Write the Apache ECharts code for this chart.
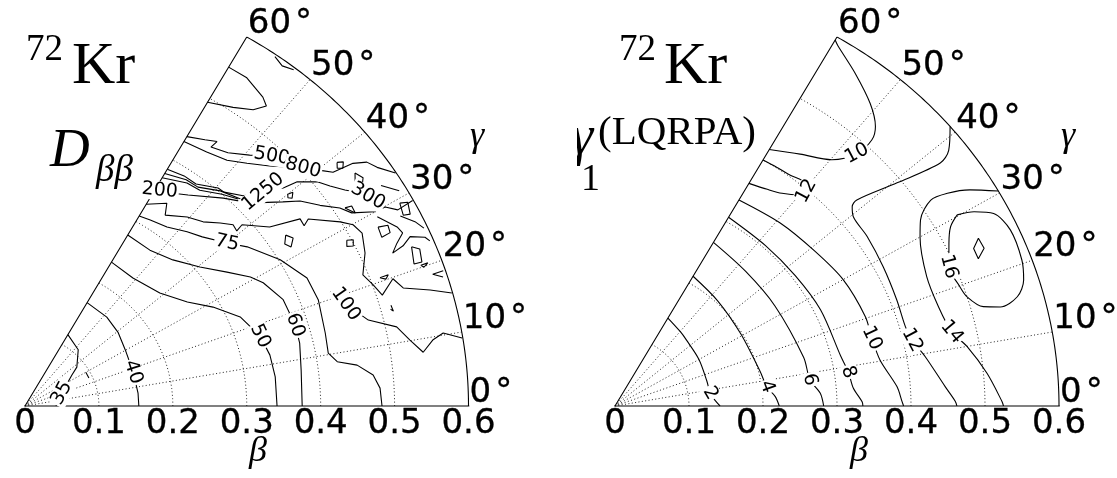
<!DOCTYPE html>
<html>
<head>
<meta charset="utf-8">
<script src="https://cdn.jsdelivr.net/npm/echarts@6/dist/echarts.min.js"></script>
<style>
  html, body { margin: 0; padding: 0; background: #fff; }
  #chart { width: 1117px; height: 478px; }
</style>
</head>
<body>
<div id="chart"></div>
<script>
// ---- axes -------------------------------------------------------------
const betaTickLabels = ['0', '0.1', '0.2', '0.3', '0.4', '0.5', '0.6'];
const betaGridValues = [0.1, 0.2, 0.3, 0.4, 0.5];
const gammaTicks = [0, 10, 20, 30, 40, 50, 60];
const gammaTickLabels = ['0', '10', '20', '30', '40', '50', '60'];
const BETA_MAX = 0.6;
const GAMMA_MAX = 60;

// ---- 72Kr, D_bb mass parameter: contour lines as [beta, gamma(deg)] ----
const dbb35 = [[0.116, 60], [0.107, 47.7], [0.089, 38], [0.077, 34.5], [0.053, 20], [0.042, 0]];
const dbb35b = [[0.095, 30], [0.095, 24.5]];
const dbb40 = [[0.168, 60], [0.167, 48.5], [0.163, 39.3], [0.157, 30.2], [0.154, 18.1], [0.154, 6.8], [0.154, 0]];
const dbb50 = [[0.234, 60], [0.232, 51], [0.242, 41.1], [0.264, 33.7], [0.290, 28.7], [0.317, 23.3], [0.333, 17.2],
  [0.339, 12.2], [0.341, 6.9], [0.341, 0]];
const dbb60 = [[0.278, 60], [0.277, 52.4], [0.287, 45.8], [0.307, 39.6], [0.332, 34.6], [0.355, 30.8], [0.366, 28.3],
  [0.380, 23.2], [0.383, 17.3], [0.382, 13.4], [0.377, 7.7], [0.375, 0]];
const dbb75 = [[0.309, 60], [0.312, 57.1], [0.317, 52.7], [0.329, 48.2], [0.338, 44.8], [0.357, 40], [0.375, 36.7],
  [0.402, 30.8], [0.422, 25.3], [0.424, 20.6], [0.419, 14.2], [0.417, 10.3], [0.427, 8.4], [0.453, 7.3],
  [0.473, 5.3], [0.481, 3], [0.483, 0]];
const dbb100 = [[0.328, 60], [0.344, 56.1], [0.329, 54.8], [0.345, 50.5], [0.354, 47.1], [0.369, 44.3], [0.380, 42.2],
  [0.378, 40.7], [0.389, 41], [0.416, 37.3], [0.456, 35.3], [0.455, 33.9], [0.465, 34.5], [0.499, 31.3],
  [0.512, 29.9], [0.517, 28.1], [0.508, 25.1], [0.493, 22], [0.501, 19.9], [0.508, 17.9], [0.529, 19.8],
  [0.538, 18], [0.572, 16.6], [0.599, 15.4]];
const dbb100b = [[0.443, 21.3], [0.457, 18.3], [0.480, 14.6], [0.515, 12.5], [0.529, 10.1], [0.544, 8],
  [0.560, 9.6], [0.575, 10.3], [0.599, 9.2]];
const dbb200 = [[0.351, 60], [0.354, 59], [0.363, 55.4], [0.370, 53.4], [0.397, 47.5], [0.412, 44.3], [0.428, 42],
  [0.452, 39.5], [0.471, 37.8], [0.489, 35.3], [0.509, 33.2], [0.519, 31.6], [0.547, 30], [0.562, 29.9],
  [0.575, 28.7], [0.599, 28.9]];
const dbb1250a = [[0.385, 60], [0.389, 56.4], [0.389, 53.5], [0.403, 49.6], [0.404, 48.2], [0.418, 45.1],
  [0.441, 43.1], [0.465, 41.3], [0.485, 40.6], [0.506, 38.6], [0.516, 36.9], [0.529, 35.1], [0.539, 34]];
const dbb1250b = [[0.378, 60], [0.386, 55.6], [0.387, 52.8], [0.402, 48.9], [0.412, 45.1], [0.421, 43.6]];
const dbb1250c = [[0.371, 60], [0.383, 55.1], [0.385, 52.1], [0.400, 48.2], [0.410, 45.3]];
const dbb500 = [[0.438, 60], [0.447, 57], [0.454, 55.1], [0.443, 55.4], [0.450, 52.4], [0.466, 49.3], [0.485, 46.5],
  [0.501, 44.2]];
const dbb800 = [[0.430, 60], [0.434, 55.5], [0.441, 51.7], [0.455, 48.7], [0.473, 45.6], [0.504, 41.7],
  [0.521, 39.5], [0.531, 38.3], [0.560, 37.6], [0.576, 36.6], [0.583, 35.2], [0.599, 33.2]];
const dbbTop = [[0.551, 60], [0.551, 57], [0.541, 53.5], [0.534, 52.3], [0.519, 53.5], [0.506, 56.2], [0.494, 60]];
const dbbTopArc = [[0.597, 55.5], [0.592, 54], [0.597, 52.5]];
// small closed islands in the noisy high-beta region
const dbbIslands = [
  [[0.544, 39.1], [0.551, 38.6], [0.545, 37.9], [0.539, 38.4], [0.544, 39.1]],
  [[0.554, 36.3], [0.559, 35.1], [0.550, 34], [0.539, 34], [0.554, 36.3]],
  [[0.582, 29.4], [0.592, 29], [0.587, 27.4], [0.578, 27.7], [0.582, 29.4]],
  [[0.540, 27.8], [0.553, 27.4], [0.551, 26.3], [0.538, 26.2], [0.540, 27.8]],
  [[0.515, 32.8], [0.524, 32.5], [0.523, 31.3], [0.515, 32.8]],
  [[0.494, 28.2], [0.502, 27.8], [0.498, 26.9], [0.490, 27.3], [0.494, 28.2]],
  [[0.569, 23.2], [0.578, 22.5], [0.574, 20.7], [0.563, 20.8], [0.569, 23.2]],
  [[0.571, 20.3], [0.581, 20.3], [0.574, 19.9], [0.571, 20.3]],
  [[0.513, 20.6], [0.525, 20.6], [0.520, 20.1], [0.513, 20.6]],
  [[0.427, 34.3], [0.433, 33.1], [0.424, 31.9], [0.419, 33], [0.427, 34.3]],
  [[0.464, 40], [0.471, 39.7], [0.465, 39], [0.461, 39.5], [0.464, 40]]
];
const dbbFragments = [
  [[0.597, 18.6], [0.582, 18.6], [0.594, 17.8]],
  [[0.573, 32.8], [0.590, 30.9]],
  [[0.546, 29.2], [0.563, 26.6], [0.566, 25.5], [0.553, 24.5], [0.542, 23.4], [0.559, 23.8], [0.573, 24.6],
    [0.591, 23.7], [0.595, 23]],
  [[0.574, 27.8], [0.588, 26.2], [0.595, 24.9]],
  [[0.515, 16], [0.516, 15], [0.513, 15.4]]
];
const dbbLabels = [[0.053, 20, '35'], [0.154, 18, '40'], [0.333, 17.2, '50'], [0.383, 17.3, '60'], [0.357, 40, '75'],
  [0.457, 18.3, '100'], [0.354, 59, '200'], [0.441, 43.1, '1250'], [0.485, 46.5, '500'], [0.504, 41.7, '800'],
  [0.550, 32.5, '300']];

// ---- 72Kr, gamma_1 (LQRPA): contour lines as [beta, gamma(deg)] ----
const g2 = [[0.143, 60], [0.137, 50], [0.134, 44], [0.131, 30], [0.129, 16], [0.130, 8], [0.136, 3], [0.142, 0]];
const g4 = [[0.211, 60], [0.203, 47], [0.198, 31], [0.202, 14], [0.207, 7.5], [0.217, 3.5], [0.222, 0]];
const g6 = [[0.266, 60], [0.259, 47], [0.258, 33], [0.264, 15], [0.266, 8], [0.278, 3.7], [0.282, 0]];
const g8 = [[0.307, 60], [0.304, 48], [0.305, 37], [0.309, 26], [0.313, 13], [0.319, 8.6], [0.323, 4.5],
  [0.334, 1], [0.335, 0]];
const g10 = [[0.335, 60], [0.341, 49], [0.347, 39], [0.356, 30], [0.361, 20.4], [0.360, 15.4], [0.364, 10.2],
  [0.382, 4.1], [0.388, 0.9], [0.390, 0]];
const g10Top = [[0.417, 60], [0.434, 54.8], [0.454, 49.8], [0.483, 47.4], [0.511, 47.2], [0.528, 48.2],
  [0.548, 51], [0.570, 55.3], [0.590, 59.3], [0.595, 60]];
const g12Lobe = [[0.362, 60], [0.368, 56], [0.375, 53], [0.388, 50], [0.405, 49.5], [0.406, 51.5], [0.402, 54],
  [0.401, 57], [0.400, 60]];
const g12 = [[0.600, 41], [0.577, 38.6], [0.557, 37.9], [0.494, 39.5], [0.437, 41.6], [0.426, 41.2], [0.418, 39.6],
  [0.416, 35], [0.412, 28.4], [0.409, 21.4], [0.408, 15.9], [0.412, 13], [0.425, 9.4], [0.447, 3.5],
  [0.460, 0.8], [0.462, 0]];
const g14 = [[0.600, 30.3], [0.568, 32.4], [0.540, 33.7], [0.516, 34.2], [0.489, 32.4], [0.476, 30], [0.459, 23.4],
  [0.459, 17.7], [0.467, 12.9], [0.483, 10], [0.505, 5.2], [0.523, 0.7], [0.525, 0]];
const g16 = [[0.535, 30.2], [0.557, 29.4], [0.579, 27.9], [0.589, 24.9], [0.587, 20.5], [0.580, 17.8],
  [0.565, 15.8], [0.539, 15.0], [0.517, 15.7], [0.500, 17.9], [0.495, 20.1], [0.492, 23.5], [0.506, 26.9],
  [0.519, 29.1], [0.535, 30.2]];
const g18 = [[0.545, 25.7], [0.546, 24.0], [0.533, 22.9], [0.533, 24.6], [0.545, 25.7]];
const gLabels = [[0.130, 8, '2'], [0.207, 7.5, '4'], [0.266, 8, '6'], [0.319, 8.6, '8'], [0.360, 15.4, '10'],
  [0.412, 13, '12'], [0.467, 12.9, '14'], [0.492, 23.5, '16'], [0.483, 47.4, '10'], [0.398, 49.5, '12']];

// ---- drawing ------------------------------------------------------------
const dbbLabelAngles = [62, -72, -65, -72, -12, -55, -5, 40, -10, -15, -30];
const gLabelAngles = [-60, -70, -78, -72, -65, -62, -50, -75, 28, 62];

const DEG = Math.PI / 180;
const toXY = pts => pts.map(p => [p[0] * Math.cos(p[1] * DEG), p[0] * Math.sin(p[1] * DEG)]);
const arc = b => { const a = []; for (let g = 0; g <= GAMMA_MAX; g += 0.5) a.push([b, g]); return a; };

const BLACK = '#000';
const gridStyle = { color: '#222', width: 1, type: [1, 2.4] };
const contourStyle = { color: BLACK, width: 1.1 };
const frameStyle = { color: BLACK, width: 1.1 };
const tickFont = { fontFamily: 'DejaVu Sans', fontSize: 34, color: BLACK, textBorderColor: BLACK, textBorderWidth: 0.3, opacity: 1 };
// invisible anchor symbols that carry the text labels
const anchorItem = { color: '#fff', opacity: 1, borderWidth: 0 };

function line(idx, pts, style, smooth, z) {
  return {
    type: 'line', xAxisIndex: idx, yAxisIndex: idx, data: toXY(pts),
    symbol: 'none', silent: true, animation: false, smooth: smooth || false,
    lineStyle: style, z: z
  };
}

function panelSeries(idx, contours, smoothed, labels, angles) {
  const s = [];
  betaGridValues.forEach(b => s.push(line(idx, arc(b), gridStyle, false, 1)));
  gammaTicks.slice(1, -1).forEach(g => s.push(line(idx, [[0, g], [BETA_MAX, g]], gridStyle, false, 1)));
  // outer frame: 60 degree edge and the beta = 0.6 arc
  s.push(line(idx, [[0, GAMMA_MAX], ...arc(BETA_MAX).reverse()], frameStyle, false, 3));
  contours.forEach(c => s.push(line(idx, c, contourStyle, smoothed, 2)));
  // angle tick labels around the arc
  s.push({
    type: 'scatter', xAxisIndex: idx, yAxisIndex: idx, silent: true, animation: false, z: 6,
    symbolSize: 0.01, itemStyle: anchorItem,
    data: gammaTicks.map((g, i) => ({ value: toXY([[BETA_MAX, g]])[0], name: gammaTickLabels[i] })),
    label: Object.assign({
      show: true, position: 'right', distance: 1, offset: [0, -13],
      formatter: p => '{n|' + p.name + '}{d|°}',
      rich: {
        n: Object.assign({}, tickFont),
        d: Object.assign({}, tickFont, { padding: [0, 0, 0, 4] })
      }
    }, tickFont)
  });
  // inline contour labels
  s.push({
    type: 'scatter', xAxisIndex: idx, yAxisIndex: idx, silent: true, animation: false, z: 5,
    symbolSize: 0.01, itemStyle: anchorItem,
    data: labels.map((l, i) => ({
      value: toXY([[l[0], l[1]]])[0], name: l[2], label: { rotate: angles[i] }
    })),
    label: {
      show: true, position: 'inside', formatter: '{b}', align: 'center', verticalAlign: 'middle', opacity: 1,
      fontFamily: 'DejaVu Sans', fontSize: 19, color: BLACK, backgroundColor: '#fff', padding: [0, 1]
    }
  });
  return s;
}

const dbbContours = [dbb35, dbb35b, dbb40, dbb50, dbb60, dbb75, dbb100, dbb100b, dbb200, dbb1250a, dbb1250b,
  dbb1250c, dbb500, dbb800, dbbTop, dbbTopArc, ...dbbIslands, ...dbbFragments];
const gContours = [g2, g4, g6, g8, g10, g10Top, g12Lobe, g12, g14, g16];

const yMax = BETA_MAX * Math.sin(GAMMA_MAX * DEG);
const xAxisFor = idx => ({
  gridIndex: idx, type: 'value', min: 0, max: BETA_MAX, interval: 0.1,
  axisLine: { show: true, lineStyle: { color: '#808080', width: 2 } },
  axisTick: { show: false }, splitLine: { show: false },
  axisLabel: Object.assign({
    show: true, margin: 1, showMinLabel: true, showMaxLabel: true,
    formatter: v => betaTickLabels[Math.round(v * 10)]
  }, tickFont)
});
const yAxisFor = idx => ({ gridIndex: idx, type: 'value', min: 0, max: yMax, show: false });

const serifI = size => 'italic ' + size + 'px "Liberation Serif", serif';
const serif = size => size + 'px "Liberation Serif", serif';
const txt = (x, y, text, font, z) => ({
  type: 'text', x: x, y: y, z: z || 10, silent: true,
  style: { text: text, font: font, fill: BLACK, textAlign: 'left', textVerticalAlign: 'middle', align: 'left', verticalAlign: 'middle' }
});
const ctxt = (x, y, text, font) => ({
  type: 'text', x: x, y: y, z: 10, silent: true,
  style: { text: text, font: font, fill: BLACK, textAlign: 'center', textVerticalAlign: 'middle', align: 'center', verticalAlign: 'middle' }
});

const chart = echarts.init(document.getElementById('chart'), null, { renderer: 'canvas' });
chart.setOption({
  backgroundColor: '#fff',
  animation: false,
  grid: [
    { left: 25, top: 37, width: 443.5, height: 369 },
    { left: 615, top: 37, width: 444, height: 369 }
  ],
  xAxis: [xAxisFor(0), xAxisFor(1)],
  yAxis: [yAxisFor(0), yAxisFor(1)],
  series: [
    ...panelSeries(0, dbbContours, false, dbbLabels, dbbLabelAngles),
    ...panelSeries(1, gContours, 0.3, gLabels, gLabelAngles),
    line(1, g18, contourStyle, false, 2)
  ],
  graphic: [
    txt(26, 50.5, '72', serif(37)),
    txt(72, 66.75, 'Kr', serif(60)),
    txt(50, 151.5, 'D', serifI(55)),
    txt(96, 171.5, 'ββ', serifI(37)),
    txt(619, 50.5, '72', serif(37)),
    txt(664, 66.75, 'Kr', serif(60)),
    txt(571, 139, 'γ', serifI(56), 8),
    { type: 'rect', z: 9, silent: true, shape: { x: 528, y: 110, width: 49, height: 90 }, style: { fill: '#fff' } },
    txt(581, 180, '1', serif(38)),
    txt(598, 133.5, '(LQRPA)', serif(41)),
    ctxt(258, 452, 'β', serifI(36)),
    ctxt(859, 452, 'β', serifI(36)),
    ctxt(477, 137, 'γ', serifI(36)),
    ctxt(1068, 137, 'γ', serifI(36))
  ]
});
</script>
</body>
</html>
